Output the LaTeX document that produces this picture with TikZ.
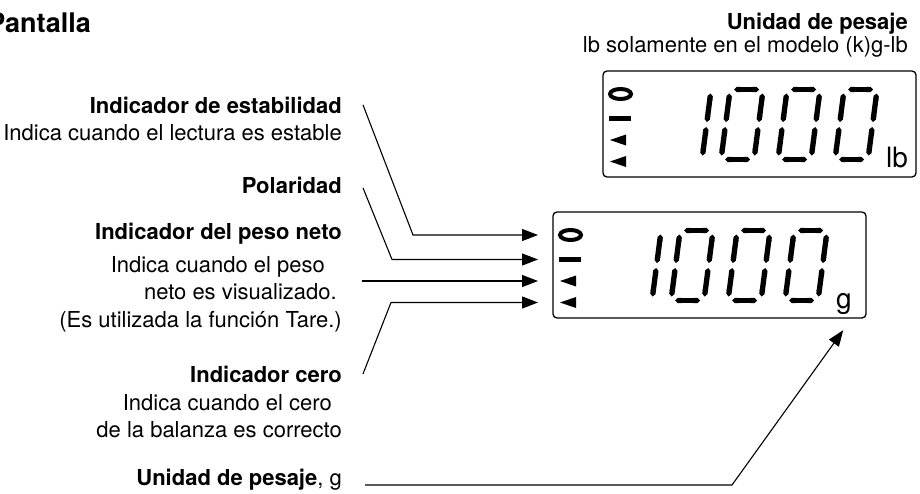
\documentclass[tikz,border=0pt]{standalone}
\usepackage{fontspec}
\setmainfont{TeX Gyre Heros}
\usepackage{tikz}
\usetikzlibrary{shapes,arrows.meta,positioning}

% one slanted seven-segment digit, lower left corner at #1
\newcommand{\digitzero}[1]{%
  \begin{scope}[shift={#1}, xslant=0.13]
    \draw[seg] (4,-70) -- (29,-70);
    \draw[seg] (33,-66) -- (33,-37.5);
    \draw[seg] (33,-32.5) -- (33,-4);
    \draw[seg] (4,0) -- (29,0);
    \draw[seg] (0,-4) -- (0,-32.5);
    \draw[seg] (0,-37.5) -- (0,-66);
  \end{scope}}
\newcommand{\digitone}[1]{%
  \begin{scope}[shift={#1}, xslant=0.13]
    \draw[seg] (0,-66) -- (0,-37.5);
    \draw[seg] (0,-32.5) -- (0,-4);
  \end{scope}}
% display window reading 1000, name #1, corner #2, unit #3
\newcommand{\lcdpanel}[3]{%
  \node[lcd] (#1) at #2 {};
  \begin{scope}[shift={(#1.north west)}]
    \draw[line width=4pt] (17.5,23) ellipse [x radius=10.5pt, y radius=5pt];
    \coordinate (#1o) at (17.5,23);
    \node[bar] (#1b) at (17,47.5) {};
    \fill (7,69) -- (23,63.5) -- (23,74.5) -- cycle;
    \coordinate (#1t) at (15,69);
    \fill (7,90.5) -- (23,85) -- (23,96) -- cycle;
    \coordinate (#1u) at (15,90.5);
    \digitone{(99,88.5)}
    \digitzero{(118,88.5)}
    \digitzero{(175,88.5)}
    \digitzero{(232,88.5)}
    \node[unit] (#1n) at (283,96) {#3};
  \end{scope}}

\begin{document}
\begin{tikzpicture}[x=1pt, y=-1pt]
    % Define styles
    \tikzstyle{title} = [font=\fontsize{22}{27.5}\selectfont\bfseries, inner sep=0pt]
    \tikzstyle{desc} = [font=\fontsize{22}{27.5}\selectfont, align=right, inner sep=0pt]
    \tikzstyle{lcd} = [draw, line width=1.3pt, rounded corners=4pt, anchor=north west, minimum width=313pt, minimum height=106pt, inner sep=0pt, outer sep=0pt]
    \tikzstyle{seg} = [line width=5.3pt, arrows={Triangle Cap[]-Triangle Cap[]}]
    \tikzstyle{bar} = [rectangle, fill, minimum width=22pt, minimum height=5pt, inner sep=0pt]
    \tikzstyle{unit} = [font=\fontsize{28}{30}\selectfont, anchor=base west, inner sep=0pt]
    \tikzstyle{pointer} = [line width=1.1pt, shorten >=15pt, -{Triangle[length=16pt,width=12pt]}]

    \useasboundingbox (0,0) rectangle (920,493);

    % Headings
    \node [font=\fontsize{27}{30}\selectfont\bfseries, anchor=base east, inner sep=0pt] (pantalla) at (91,32) {Pantalla};
    \node [title, anchor=base east] (tunitlb) at (908,29) {Unidad de pesaje};
    \node [desc, below=23pt of tunitlb.base east, anchor=base east] (dunitlb) {lb solamente en el modelo (k)g-lb};

    % The two display windows
    \lcdpanel{lcdlb}{(603,71)}{lb}
    \lcdpanel{lcdg}{(553,212)}{g}

    % Labels on the left
    \node [title, anchor=base east] (tstab) at (342,113) {Indicador de estabilidad};
    \node [desc, below=27pt of tstab.base east, anchor=base east] (dstab) {Indica cuando el lectura es estable};
    \node [title, anchor=base east] (tpol) at (342,193) {Polaridad};
    \node [title, anchor=base east] (tneto) at (342,239) {Indicador del peso neto};
    \node [desc, below=17pt of tneto.base east, anchor=north east] (dneto) {Indica cuando el peso\kern17pt\\ neto es visualizado.\kern5pt\\ (Es utilizada la función Tare.)};
    \node [title, anchor=base east] (tcero) at (342,382) {Indicador cero};
    \node [desc, below=12pt of tcero.base east, anchor=north east] (dcero) {Indica cuando el cero\kern10pt\\ de la balanza es correcto};
    \node [title, anchor=base east] (tunit) at (342,485) {Unidad de pesaje\mdseries, g};

    % Leaders
    \draw [pointer] ([xshift=21pt]tstab.east) -- (413,0 |- lcdgo) -- (lcdg.west |- lcdgo);
    \draw [pointer] ([xshift=21pt,yshift=-3pt]tpol.east) -- (392,0 |- lcdgb) -- (lcdg.west |- lcdgb);
    \draw [pointer, shorten <=20pt] (dneto.east |- lcdgt) -- (lcdg.west |- lcdgt);
    \draw [pointer] ([xshift=21pt]tcero.east) -- (391,0 |- lcdgu) -- (lcdg.west |- lcdgu);
    \draw [pointer] ([xshift=23pt]tunit.base east) -- (732,0 |- tunit.base) -- (lcdgn.east |- lcdg.south);
\end{tikzpicture}
\end{document}
